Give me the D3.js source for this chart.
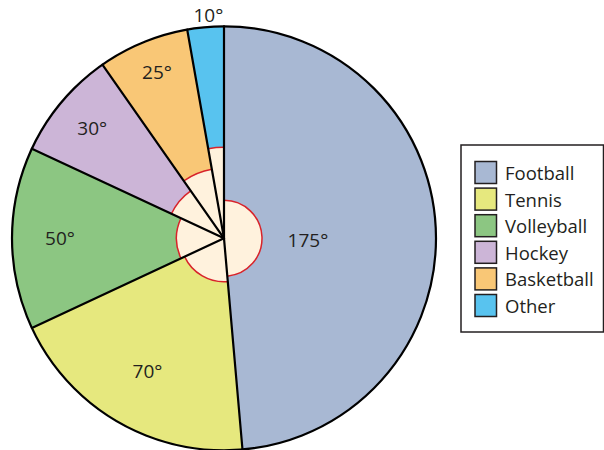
<!DOCTYPE html>
<html>
<head>
<meta charset="utf-8">
<script src="https://cdn.jsdelivr.net/npm/d3@7"></script>
<style>
  html, body { margin: 0; padding: 0; background: #fff; }
  svg { display: block; font-family: "Open Sans", "DejaVu Sans", sans-serif; }
</style>
</head>
<body>
<svg id="chart" width="604" height="450"></svg>
<script>
// Sports preference survey, shown as sector angles (degrees)
const categories = ["Football", "Tennis", "Volleyball", "Hockey", "Basketball", "Other"];
const angles = [175, 70, 50, 30, 25, 10];
const colors = ["#a8b8d3", "#e6e87e", "#8cc682", "#ccb5d7", "#f9c776", "#58c3ef"];

// Layout: radius of each angle-marker arc, and polar placement of each sector label
const markerRadius = [38, 43.5, 47.5, 58, 70, 91];
const labelRadius = [84, 153, 164, 172, 179, 224];
const labelBearing = [91, 210, 270, 310, 338, 356];

const svg = d3.select("#chart");
const cx = 224, cy = 238.3, R = 212;

const pie = d3.pie().sort(null).value(d => d.angle);
const data = categories.map((c, i) => ({ name: c, angle: angles[i], color: colors[i], i }));
const arcs = pie(data);

const g = svg.append("g").attr("transform", `translate(${cx},${cy})`);

const arc = d3.arc().innerRadius(0).outerRadius(R);

// Sectors
g.selectAll("path.sector")
  .data(arcs)
  .join("path")
  .attr("class", "sector")
  .attr("d", arc)
  .attr("fill", d => d.data.color)
  .attr("stroke", "none");

// Angle markers at the centre
g.selectAll("path.marker")
  .data(arcs)
  .join("path")
  .attr("class", "marker")
  .attr("d", d => d3.arc().innerRadius(0).outerRadius(markerRadius[d.data.i])(d))
  .attr("fill", "#fff2dd")
  .attr("stroke", "none");

g.selectAll("path.markerArc")
  .data(arcs)
  .join("path")
  .attr("class", "markerArc")
  .attr("d", d => {
    const r = markerRadius[d.data.i];
    const p = d3.path();
    p.arc(0, 0, r, d.startAngle - Math.PI / 2, d.endAngle - Math.PI / 2);
    return p.toString();
  })
  .attr("fill", "none")
  .attr("stroke", "#d8232a")
  .attr("stroke-width", 1.5);

// Radii separating the sectors
g.selectAll("line.radius")
  .data(arcs)
  .join("line")
  .attr("class", "radius")
  .attr("x1", 0).attr("y1", 0)
  .attr("x2", d => R * Math.sin(d.startAngle))
  .attr("y2", d => -R * Math.cos(d.startAngle))
  .attr("stroke", "#000")
  .attr("stroke-width", 2.2)
  .attr("stroke-linecap", "round");

// Outer circle
g.append("circle")
  .attr("r", R)
  .attr("fill", "none")
  .attr("stroke", "#000")
  .attr("stroke-width", 2.2);

// Sector labels
const rad = deg => deg * Math.PI / 180;
g.selectAll("text.label")
  .data(arcs)
  .join("text")
  .attr("class", "label")
  .attr("x", d => labelRadius[d.data.i] * Math.sin(rad(labelBearing[d.data.i])))
  .attr("y", d => -labelRadius[d.data.i] * Math.cos(rad(labelBearing[d.data.i])))
  .attr("text-anchor", "middle")
  .attr("dominant-baseline", "central")
  .attr("font-size", 19)
  .attr("fill", "#231f20")
  .text(d => d.data.angle + "°");

// Legend
const legend = svg.append("g");
legend.append("rect")
  .attr("x", 461).attr("y", 145)
  .attr("width", 142.5).attr("height", 187)
  .attr("fill", "#fff")
  .attr("stroke", "#231f20")
  .attr("stroke-width", 1.5);

const rows = legend.selectAll("g.row")
  .data(data)
  .join("g")
  .attr("class", "row")
  .attr("transform", (d, i) => `translate(475, ${161.5 + i * 26.6})`);

rows.append("rect")
  .attr("width", 21.5).attr("height", 22)
  .attr("fill", d => d.color)
  .attr("stroke", "#231f20")
  .attr("stroke-width", 1.5);

rows.append("text")
  .attr("x", 30)
  .attr("y", 11)
  .attr("dominant-baseline", "central")
  .attr("font-size", 18.5)
  .attr("fill", "#231f20")
  .text(d => d.name);
</script>
</body>
</html>
